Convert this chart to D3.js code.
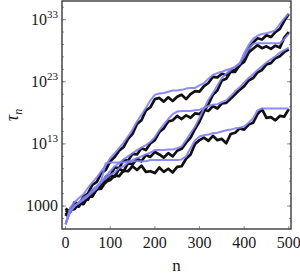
<!DOCTYPE html>
<html>
<head>
<meta charset="utf-8">
<script src="https://cdn.jsdelivr.net/npm/d3@7"></script>
<style>
  body { margin: 0; background: #fff; }
  svg { display: block; }
  text { font-family: "Liberation Serif", "DejaVu Serif", serif; fill: #1a1a1a; }
</style>
</head>
<body>
<svg id="chart"></svg>
<script>
// n sampled every 10 steps, values are log10(tau_n)
const steps = d3.range(0, 501, 10);

const walkA = [2.3,2.1,3.6,3.2,4.5,5.0,6.4,6.9,8.3,8.8,10.2,10.9,11.9,12.5,13.8,14.6,16.2,16.8,18.4,18.9,20.2,20.4,19.8,20.5,19.9,20.6,20.9,20.2,21.0,21.5,21.4,22.3,22.8,23.8,23.7,24.3,24.1,24.8,24.9,25.6,26.9,28.3,29.3,30.0,29.8,30.5,30.2,31.0,31.5,32.8,33.9];
const walkB = [2.6,2.0,3.1,2.9,4.2,4.0,5.4,5.6,6.6,6.8,7.9,7.7,9.0,8.6,9.9,9.7,10.6,10.2,11.2,10.9,11.7,11.3,10.8,11.5,11.0,11.9,12.2,13.2,14.0,15.4,16.6,18.2,19.4,20.9,21.6,23.2,23.5,24.6,24.6,25.7,26.2,27.7,28.3,28.9,28.4,28.7,28.3,28.8,28.5,30.1,31.0];
const walkC = [1.4,2.4,2.6,3.5,3.4,4.6,4.5,5.8,6.2,7.7,7.9,9.2,9.1,10.4,10.3,11.4,11.3,12.3,12.0,13.1,13.6,14.9,15.5,16.6,16.8,17.5,17.0,17.6,17.2,17.9,17.8,18.5,18.3,19.1,18.7,19.5,19.6,20.3,21.0,21.7,22.3,23.2,23.6,24.5,24.9,25.8,26.0,26.8,27.1,27.8,28.2];
const walkD = [1.6,2.4,2.5,3.4,3.3,4.4,4.6,5.7,5.8,6.9,7.2,7.9,7.8,8.7,8.6,9.4,8.8,9.5,8.5,8.6,8.3,9.2,8.5,9.0,8.4,9.3,9.4,10.6,11.3,13.0,13.6,14.0,13.5,14.3,13.6,13.8,13.1,14.6,14.8,15.5,15.3,16.1,16.4,17.8,18.6,17.2,17.3,16.8,17.5,17.4,18.6];

const fitA = [0.1,2.7,3.6,4.3,4.9,5.9,6.8,7.6,8.6,9.6,10.7,11.5,12.3,13.2,14.2,15.3,16.6,17.7,18.8,20.0,20.9,21.1,21.2,21.4,21.6,21.6,21.7,21.9,22.0,22.0,22.4,22.8,23.5,24.1,24.4,24.6,24.9,25.1,25.4,25.9,27.6,28.9,29.9,30.4,30.7,30.8,31.0,31.3,32.3,33.2,34.0];
const fitB = [0.1,2.0,3.0,3.6,4.3,4.8,5.6,6.2,6.8,7.5,8.0,8.4,9.1,9.4,10.0,10.4,10.7,11.0,11.3,11.6,12.0,12.0,12.0,12.1,12.1,12.3,12.6,13.6,14.7,15.8,17.2,18.7,20.1,21.2,22.4,23.6,24.3,24.9,25.4,26.0,27.0,28.3,29.1,29.2,29.2,29.2,29.2,29.2,29.2,29.9,30.7];
const fitC = [0.1,2.1,3.0,3.5,4.0,4.6,5.3,5.9,6.8,7.8,8.6,9.4,9.9,10.5,11.0,11.5,12.0,12.4,12.8,13.3,14.1,15.2,16.1,17.0,17.8,18.2,18.3,18.3,18.3,18.4,18.5,18.8,19.1,19.3,19.4,19.7,20.0,20.7,21.5,22.1,22.9,23.6,24.2,24.9,25.5,26.1,26.6,27.1,27.7,28.1,28.5];
const fitD = [0.0,2.2,3.0,3.5,4.0,4.6,5.2,5.9,7.2,9.9,10.0,10.0,10.0,10.0,10.2,10.2,10.2,10.2,10.2,10.4,10.4,10.4,10.4,10.4,10.4,10.4,10.5,11.0,12.3,13.6,14.2,14.4,14.5,14.7,14.8,15.0,15.2,15.3,15.5,15.6,15.8,16.4,17.1,18.4,18.7,18.7,18.7,18.7,18.7,18.7,18.7];

const xTicks = [0, 100, 200, 300, 400, 500];
const yTickExp = [3, 13, 23, 33];

const width = 300, height = 276;
const margin = {left: 62, right: 9, top: 1, bottom: 47};

const svg = d3.select("#chart")
    .attr("width", width)
    .attr("height", height);

const x = d3.scaleLinear()
    .domain([-8, 505])
    .range([margin.left, width - margin.right]);

const y = d3.scaleLog()
    .domain([10 ** -0.7, 10 ** 36])
    .range([height - margin.bottom, margin.top]);

svg.append("clipPath").attr("id", "plot-clip")
  .append("rect")
    .attr("x", margin.left)
    .attr("y", margin.top)
    .attr("width", width - margin.left - margin.right)
    .attr("height", height - margin.top - margin.bottom);

const line = d3.line()
    .x((d, i) => x(steps[i]))
    .y(d => y(10 ** d));

const plot = svg.append("g").attr("clip-path", "url(#plot-clip)");

plot.selectAll(".walk")
    .data([walkA, walkB, walkC, walkD])
    .join("path")
    .attr("class", "walk")
    .attr("d", line)
    .attr("fill", "none")
    .attr("stroke", "#111")
    .attr("stroke-width", 2.7)
    .attr("stroke-linejoin", "round");

plot.selectAll(".fit")
    .data([fitA, fitB, fitC, fitD])
    .join("path")
    .attr("class", "fit")
    .attr("d", line)
    .attr("fill", "none")
    .attr("stroke", "#7f7ff4")
    .attr("stroke-width", 2)
    .attr("stroke-opacity", 0.9)
    .attr("stroke-linejoin", "round");

// ticks: major on labelled powers, minor every 2 decades
const minorExp = d3.range(1, 36, 2);
const x0 = margin.left, x1 = width - margin.right;
const yb = height - margin.bottom;

const tickG = svg.append("g").attr("stroke", "#777").attr("stroke-width", 0.8);
tickG.selectAll(".ymin")
    .data(minorExp)
    .join("line")
    .attr("x1", x0).attr("x2", x0 + 2)
    .attr("y1", d => y(10 ** d)).attr("y2", d => y(10 ** d));
tickG.selectAll(".ymin-r")
    .data(minorExp)
    .join("line")
    .attr("x1", x1).attr("x2", x1 - 2)
    .attr("y1", d => y(10 ** d)).attr("y2", d => y(10 ** d));
tickG.selectAll(".ymaj")
    .data(yTickExp)
    .join("line")
    .attr("x1", x0).attr("x2", x0 + 4)
    .attr("y1", d => y(10 ** d)).attr("y2", d => y(10 ** d));
tickG.selectAll(".ymaj-r")
    .data(yTickExp)
    .join("line")
    .attr("x1", x1).attr("x2", x1 - 4)
    .attr("y1", d => y(10 ** d)).attr("y2", d => y(10 ** d));
tickG.selectAll(".xmaj")
    .data(xTicks)
    .join("line")
    .attr("x1", d => x(d)).attr("x2", d => x(d))
    .attr("y1", yb).attr("y2", yb - 3);

// frame
svg.append("rect")
    .attr("x", x0)
    .attr("y", margin.top)
    .attr("width", x1 - x0)
    .attr("height", yb - margin.top)
    .attr("fill", "none")
    .attr("stroke", "#3a3a3a")
    .attr("stroke-width", 1.4);

// y tick labels
const yLab = svg.selectAll(".ylab")
    .data(yTickExp)
    .join("text")
    .attr("class", "ylab")
    .attr("x", x0 - 4)
    .attr("y", d => y(10 ** d) + 5)
    .attr("text-anchor", "end")
    .attr("font-size", 16);
yLab.each(function (d) {
    const t = d3.select(this);
    if (d === 3) {
        t.text("1000");
    } else {
        t.append("tspan").text("10");
        t.append("tspan").attr("dy", -7).attr("font-size", 11).text(d);
    }
});

// x tick labels
svg.selectAll(".xlab")
    .data(xTicks)
    .join("text")
    .attr("class", "xlab")
    .attr("x", d => x(d))
    .attr("y", yb + 19)
    .attr("text-anchor", "middle")
    .attr("font-size", 16)
    .text(d => d);

// axis titles
svg.append("text")
    .attr("x", (x0 + x1) / 2)
    .attr("y", 271)
    .attr("text-anchor", "middle")
    .attr("font-size", 17)
    .text("n");

const yTitle = svg.append("text")
    .attr("transform", `translate(18,${(margin.top + yb) / 2}) rotate(-90)`)
    .attr("text-anchor", "middle")
    .attr("font-size", 18)
    .attr("font-style", "italic");
yTitle.append("tspan").text("τ");
yTitle.append("tspan").attr("dy", 4).attr("font-size", 12).text("n");
</script>
</body>
</html>
